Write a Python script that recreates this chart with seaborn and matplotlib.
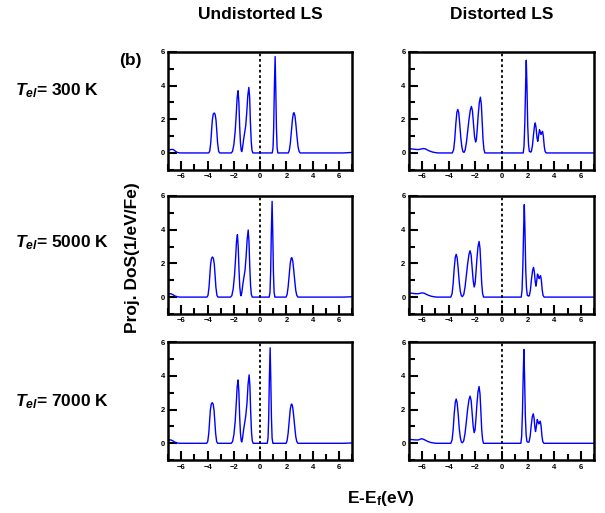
import matplotlib
matplotlib.use("Agg")
import matplotlib.pyplot as plt
import seaborn as sns
from matplotlib.ticker import MultipleLocator

# ---------------------------------------------------------------------------
# Data: projected DoS, (E - Ef [eV], DoS [1/eV/Fe])
# ---------------------------------------------------------------------------

undist_300 = [
    (-7.0, 0.15), (-6.9, 0.18), (-6.75, 0.21), (-6.6, 0.2), (-6.45, 0.1), (-6.3, 0.03), (-6.1, 0.0),
    (-3.92, 0.0), (-3.84, 0.1), (-3.76, 0.6), (-3.70, 1.3), (-3.64, 1.95), (-3.57, 2.3), (-3.50, 2.37),
    (-3.43, 2.3), (-3.36, 1.95), (-3.30, 1.3), (-3.24, 0.6), (-3.16, 0.1), (-3.08, 0.0),
    (-2.2, 0.0), (-2.1, 0.1), (-2.0, 0.5), (-1.9, 1.3), (-1.82, 2.3), (-1.75, 3.3), (-1.68, 3.69),
    (-1.62, 3.0), (-1.56, 1.6), (-1.5, 0.6), (-1.44, 0.15), (-1.40, 0.08),
    (-1.34, 0.3), (-1.26, 0.8), (-1.18, 1.2), (-1.10, 1.6), (-1.02, 2.4), (-0.94, 3.4), (-0.86, 3.89),
    (-0.80, 3.3), (-0.74, 1.8), (-0.68, 0.7), (-0.62, 0.15), (-0.55, 0.0),
    (0.92, 0.0), (0.98, 0.3), (1.03, 1.5), (1.08, 3.8), (1.14, 5.72), (1.19, 3.8), (1.24, 1.5),
    (1.29, 0.3), (1.35, 0.0),
    (2.14, 0.0), (2.22, 0.15), (2.30, 0.6), (2.38, 1.3), (2.46, 2.0), (2.53, 2.35), (2.58, 2.39),
    (2.65, 2.2), (2.72, 1.7), (2.80, 1.0), (2.88, 0.4), (2.96, 0.1), (3.05, 0.0),
    (6.3, 0.0), (7.0, 0.03),
]

undist_5000 = [
    (-7.0, 0.17), (-6.9, 0.2), (-6.8, 0.2), (-6.65, 0.15), (-6.5, 0.07), (-6.3, 0.02), (-6.1, 0.0),
    (-4.05, 0.0), (-3.97, 0.1), (-3.89, 0.6), (-3.83, 1.3), (-3.77, 1.95), (-3.70, 2.3), (-3.63, 2.38),
    (-3.56, 2.3), (-3.49, 1.95), (-3.43, 1.3), (-3.37, 0.6), (-3.29, 0.1), (-3.21, 0.0),
    (-2.25, 0.0), (-2.15, 0.1), (-2.05, 0.5), (-1.95, 1.3), (-1.87, 2.3), (-1.80, 3.3), (-1.73, 3.71),
    (-1.67, 3.0), (-1.61, 1.6), (-1.55, 0.6), (-1.49, 0.15), (-1.45, 0.08),
    (-1.39, 0.3), (-1.31, 0.8), (-1.23, 1.2), (-1.15, 1.6), (-1.07, 2.4), (-0.99, 3.4), (-0.91, 3.98),
    (-0.85, 3.3), (-0.79, 1.8), (-0.73, 0.7), (-0.67, 0.15), (-0.60, 0.0),
    (0.69, 0.0), (0.75, 0.3), (0.80, 1.5), (0.85, 3.8), (0.91, 5.68), (0.96, 3.8), (1.01, 1.5),
    (1.06, 0.3), (1.12, 0.0),
    (1.97, 0.0), (2.05, 0.15), (2.13, 0.6), (2.21, 1.3), (2.29, 2.0), (2.36, 2.3), (2.41, 2.34),
    (2.48, 2.15), (2.55, 1.65), (2.63, 1.0), (2.71, 0.4), (2.79, 0.1), (2.88, 0.0),
    (6.3, 0.0), (7.0, 0.02),
]

undist_7000 = [
    (-7.0, 0.17), (-6.9, 0.2), (-6.8, 0.2), (-6.65, 0.15), (-6.5, 0.07), (-6.3, 0.02), (-6.1, 0.0),
    (-4.07, 0.0), (-3.99, 0.1), (-3.91, 0.6), (-3.85, 1.3), (-3.79, 1.97), (-3.72, 2.33), (-3.65, 2.41),
    (-3.58, 2.33), (-3.51, 1.97), (-3.45, 1.3), (-3.39, 0.6), (-3.31, 0.1), (-3.23, 0.0),
    (-2.2, 0.0), (-2.1, 0.1), (-2.0, 0.5), (-1.9, 1.3), (-1.82, 2.35), (-1.75, 3.35), (-1.68, 3.76),
    (-1.62, 3.05), (-1.56, 1.6), (-1.5, 0.6), (-1.44, 0.15), (-1.40, 0.08),
    (-1.34, 0.3), (-1.26, 0.8), (-1.18, 1.2), (-1.10, 1.6), (-1.0, 2.4), (-0.92, 3.5), (-0.84, 4.06),
    (-0.78, 3.4), (-0.72, 1.85), (-0.66, 0.7), (-0.60, 0.15), (-0.53, 0.0),
    (0.54, 0.0), (0.60, 0.3), (0.65, 1.5), (0.70, 3.8), (0.76, 5.67), (0.81, 3.8), (0.86, 1.5),
    (0.91, 0.3), (0.97, 0.0),
    (1.97, 0.0), (2.05, 0.15), (2.13, 0.6), (2.21, 1.3), (2.29, 2.0), (2.36, 2.29), (2.41, 2.33),
    (2.48, 2.14), (2.55, 1.64), (2.63, 1.0), (2.71, 0.4), (2.79, 0.1), (2.88, 0.0),
    (6.3, 0.0), (7.0, 0.02),
]

dist_300 = [
    (-7.0, 0.26), (-6.8, 0.24), (-6.5, 0.21), (-6.3, 0.2), (-6.1, 0.23), (-5.9, 0.26), (-5.75, 0.24),
    (-5.6, 0.17), (-5.4, 0.1), (-5.2, 0.05), (-5.0, 0.02), (-4.8, 0.0),
    (-3.72, 0.0), (-3.62, 0.2), (-3.54, 0.8), (-3.46, 1.7), (-3.38, 2.4), (-3.31, 2.58), (-3.24, 2.4),
    (-3.16, 1.7), (-3.08, 0.9), (-3.0, 0.35), (-2.92, 0.08), (-2.84, 0.03),
    (-2.76, 0.15), (-2.66, 0.6), (-2.56, 1.3), (-2.46, 2.0), (-2.36, 2.55), (-2.28, 2.76), (-2.2, 2.5),
    (-2.12, 1.7), (-2.04, 0.95), (-1.96, 0.65), (-1.9, 0.8),
    (-1.84, 1.4), (-1.76, 2.3), (-1.68, 3.0), (-1.60, 3.31), (-1.53, 2.9), (-1.46, 1.8), (-1.40, 0.8),
    (-1.33, 0.2), (-1.26, 0.0),
    (1.64, 0.0), (1.70, 0.4), (1.76, 1.8), (1.82, 4.0), (1.87, 5.5), (1.92, 4.0), (1.98, 1.6),
    (2.04, 0.5), (2.10, 0.1), (2.2, 0.05),
    (2.25, 0.08), (2.33, 0.4), (2.42, 1.1), (2.49, 1.6), (2.55, 1.78), (2.61, 1.5), (2.68, 0.9),
    (2.74, 0.69), (2.80, 1.0), (2.87, 1.38), (2.92, 1.25), (2.98, 1.1), (3.04, 1.2), (3.10, 1.28),
    (3.16, 1.0), (3.23, 0.4), (3.29, 0.1), (3.37, 0.0),
    (7.0, 0.0),
]

dist_5000 = [
    (-7.0, 0.24), (-6.8, 0.23), (-6.5, 0.2), (-6.3, 0.2), (-6.15, 0.23), (-6.0, 0.25), (-5.85, 0.23),
    (-5.7, 0.17), (-5.5, 0.1), (-5.3, 0.05), (-5.1, 0.02), (-4.9, 0.0),
    (-3.84, 0.0), (-3.74, 0.2), (-3.66, 0.8), (-3.58, 1.7), (-3.50, 2.35), (-3.43, 2.54), (-3.36, 2.35),
    (-3.28, 1.7), (-3.20, 0.9), (-3.12, 0.35), (-3.04, 0.08), (-2.96, 0.03),
    (-2.86, 0.15), (-2.76, 0.6), (-2.66, 1.3), (-2.56, 2.0), (-2.46, 2.55), (-2.38, 2.75), (-2.30, 2.5),
    (-2.22, 1.7), (-2.14, 0.95), (-2.07, 0.6), (-2.0, 0.8),
    (-1.94, 1.4), (-1.86, 2.3), (-1.78, 3.0), (-1.70, 3.30), (-1.63, 2.9), (-1.56, 1.8), (-1.50, 0.8),
    (-1.43, 0.2), (-1.36, 0.0),
    (1.49, 0.0), (1.55, 0.4), (1.61, 1.8), (1.67, 4.0), (1.72, 5.49), (1.77, 4.0), (1.83, 1.6),
    (1.89, 0.5), (1.95, 0.1), (2.05, 0.06),
    (2.10, 0.08), (2.18, 0.4), (2.27, 1.1), (2.35, 1.6), (2.42, 1.76), (2.48, 1.5), (2.55, 0.9),
    (2.60, 0.65), (2.66, 0.95), (2.72, 1.37), (2.78, 1.25), (2.84, 1.1), (2.90, 1.2), (2.95, 1.27),
    (3.01, 1.0), (3.08, 0.4), (3.14, 0.1), (3.22, 0.0),
    (7.0, 0.0),
]

dist_7000 = [
    (-7.0, 0.23), (-6.8, 0.22), (-6.5, 0.2), (-6.3, 0.2), (-6.15, 0.24), (-6.04, 0.27), (-5.9, 0.24),
    (-5.75, 0.18), (-5.55, 0.1), (-5.35, 0.05), (-5.15, 0.02), (-4.95, 0.0),
    (-3.84, 0.0), (-3.74, 0.2), (-3.66, 0.8), (-3.58, 1.75), (-3.50, 2.42), (-3.43, 2.63), (-3.36, 2.42),
    (-3.28, 1.75), (-3.20, 0.9), (-3.12, 0.35), (-3.04, 0.08), (-2.96, 0.03),
    (-2.86, 0.15), (-2.76, 0.6), (-2.66, 1.3), (-2.56, 2.05), (-2.46, 2.6), (-2.38, 2.80), (-2.30, 2.55),
    (-2.22, 1.75), (-2.14, 0.97), (-2.07, 0.63), (-2.0, 0.82),
    (-1.94, 1.42), (-1.86, 2.35), (-1.78, 3.05), (-1.70, 3.37), (-1.63, 2.95), (-1.56, 1.85), (-1.50, 0.8),
    (-1.43, 0.2), (-1.36, 0.0),
    (1.46, 0.0), (1.52, 0.4), (1.58, 1.8), (1.64, 4.05), (1.69, 5.57), (1.74, 4.05), (1.80, 1.6),
    (1.86, 0.5), (1.92, 0.1), (2.02, 0.06),
    (2.08, 0.08), (2.16, 0.4), (2.25, 1.1), (2.33, 1.6), (2.40, 1.75), (2.46, 1.5), (2.52, 0.95),
    (2.57, 0.7), (2.63, 0.98), (2.70, 1.41), (2.76, 1.28), (2.82, 1.15), (2.88, 1.24), (2.93, 1.31),
    (2.99, 1.02), (3.06, 0.4), (3.12, 0.1), (3.20, 0.0),
    (7.0, 0.0),
]

col_titles = ["Undistorted LS", "Distorted LS"]
row_labels = [r"$T_{el}$= 300 K", r"$T_{el}$= 5000 K", r"$T_{el}$= 7000 K"]
panels = [[undist_300, dist_300], [undist_5000, dist_5000], [undist_7000, dist_7000]]

# ---------------------------------------------------------------------------
# Style
# ---------------------------------------------------------------------------

sns.set_style("ticks")
plt.rcParams["font.family"] = ["Liberation Sans", "DejaVu Sans"]
plt.rcParams["font.weight"] = "bold"
plt.rcParams["text.color"] = "black"
plt.rcParams["xtick.color"] = "black"
plt.rcParams["ytick.color"] = "black"
plt.rcParams["axes.labelcolor"] = "black"
plt.rcParams["mathtext.fontset"] = "custom"
plt.rcParams["mathtext.it"] = "Liberation Sans:italic:bold"
plt.rcParams["mathtext.rm"] = "Liberation Sans:bold"
plt.rcParams["mathtext.bf"] = "Liberation Sans:bold"

fig = plt.figure(figsize=(6.05, 5.13), dpi=100)

col_x = [0.278, 0.676]
col_w = [0.304, 0.306]
row_y = [0.669, 0.388, 0.103]
row_h = 0.230

for r in range(3):
    for c in range(2):
        ax = fig.add_axes([col_x[c], row_y[r], col_w[c], row_h])
        e, dos = zip(*panels[r][c])
        sns.lineplot(x=list(e), y=list(dos), ax=ax, color="#0000ff", linewidth=1.0,
                     estimator=None, sort=False)
        ax.axvline(0, color="black", linestyle=(0, (1.5, 1.5)), linewidth=1.3)
        ax.set_xlim(-7, 7)
        ax.set_ylim(-1, 6)
        ax.set_xticks(range(-6, 7, 2))
        ax.set_yticks([0, 2, 4, 6])
        ax.xaxis.set_minor_locator(MultipleLocator(1))
        ax.yaxis.set_minor_locator(MultipleLocator(1))
        ax.tick_params(which="major", direction="in", length=6.5, width=1.5,
                       labelsize=5.5, pad=2.5, colors="black")
        ax.tick_params(which="minor", direction="in", length=4, width=1.5, colors="black")
        for s in ax.spines.values():
            s.set_linewidth(1.8)
            s.set_color("black")

for c in range(2):
    fig.text(col_x[c] + col_w[c] / 2, 1 - 15 / 513, col_titles[c],
             ha="center", va="center", fontsize=12.5, fontweight="bold")

for r, y in enumerate([91, 243, 402]):
    fig.text(15 / 605, 1 - y / 513, row_labels[r], ha="left", va="center",
             fontsize=12.5, fontweight="bold")

fig.text(130 / 605, 1 - 60 / 513, "(b)", ha="center", va="center",
         fontsize=12.5, fontweight="bold")
fig.text(133 / 605, 1 - 258 / 513, "Proj. DoS(1/eV/Fe)", rotation=90,
         ha="center", va="center", fontsize=12.5, fontweight="bold")
fig.text(381 / 605, 1 - 498 / 513, r"E-E$_\mathrm{f}$(eV)", ha="center", va="center",
         fontsize=12.5, fontweight="bold")

fig.savefig("out.png", dpi=100)
plt.close(fig)
